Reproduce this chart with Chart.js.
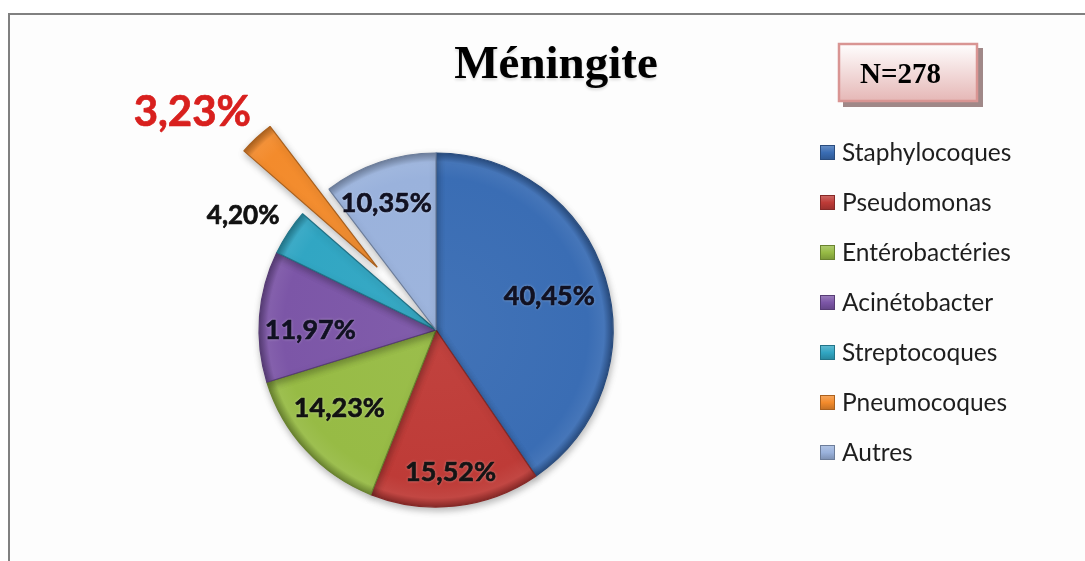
<!DOCTYPE html>
<html><head><meta charset="utf-8">
<script src="https://cdn.jsdelivr.net/npm/chart.js@4/dist/chart.umd.min.js"></script>
<style>
html,body{margin:0;padding:0;background:#fff;}
#wrap{position:relative;width:1085px;height:561px;overflow:hidden;}
canvas{position:absolute;left:0;top:0;}
</style></head><body>
<div id="wrap"><canvas id="c" width="1085" height="561"></canvas></div>
<script>
// ---- data ----
const categories = ['Staphylocoques','Pseudomonas','Entérobactéries','Acinétobacter','Streptocoques','Pneumocoques','Autres'];
const percentages = [40.45, 15.52, 14.23, 11.97, 4.20, 3.23, 10.35];
const chartTitle = 'Méningite';
const sampleSize = 'N=278';

// ---- styles ----
const sliceColors = ['#3A6DB4','#BE3B37','#97BB45','#7C56A7','#31A6C3','#F38B2C','#9AB2DC'];
const explodeDistance = [0,0,0,0,0,86,0];
const labelPlace = [
  {f:0.67, da:0},{f:0.805, da:0.5},{f:0.70, da:4},{f:0.71, da:-4},
  {f:1.27, da:-2.6},{f:1.85, da:-5},{f:0.775, da:-2.6}
];
const labelStyle = [
  {size:27,color:'#111122'},{size:27,color:'#141414'},{size:27,color:'#111111'},{size:27,color:'#111122'},
  {size:26,color:'#111111'},{size:42,color:'#D8201E'},{size:27,color:'#111122'}
];
const PIE_R = 177;

function fmtPct(v){ return v.toFixed(2).replace('.', ',') + '%'; }

function shade(hex, amt){
  const n = parseInt(hex.slice(1),16);
  let r=(n>>16)&255,g=(n>>8)&255,b=n&255;
  const f = c => Math.max(0,Math.min(255,Math.round(amt<0 ? c*(1+amt) : c+(255-c)*amt)));
  return 'rgb('+f(r)+','+f(g)+','+f(b)+')';
}

function sliceCenter(chart, i){
  const a = chart.chartArea;
  const data = chart.data.datasets[0].data;
  const total = data.reduce((s,v)=>s+v,0);
  let start = -Math.PI/2;
  for(let k=0;k<i;k++) start += data[k]/total*2*Math.PI;
  const mid = start + data[i]/total*Math.PI;
  const d = explodeDistance[i]||0;
  return {x:(a.left+a.right)/2 + Math.cos(mid)*d, y:(a.top+a.bottom)/2 + Math.sin(mid)*d};
}

function sliceFill(ctx){
  const chart = ctx.chart, i = ctx.dataIndex;
  const base = sliceColors[i];
  if(!chart.chartArea || i===undefined) return base;
  const c = sliceCenter(chart, i);
  const g = chart.ctx.createRadialGradient(c.x, c.y, 0, c.x, c.y, PIE_R);
  g.addColorStop(0, shade(base, 0.04));
  g.addColorStop(0.86, base);
  g.addColorStop(0.95, shade(base, 0.06));
  g.addColorStop(1, shade(base, -0.28));
  return g;
}

const framePlugin = {
  id:'frame',
  beforeDraw(chart){
    const ctx = chart.ctx;
    ctx.save();
    ctx.fillStyle = '#ffffff';
    ctx.fillRect(0,0,chart.width,chart.height);
    ctx.fillStyle = '#fdfdfd';
    ctx.fillRect(10,15,chart.width,chart.height);
    ctx.strokeStyle = '#808080';
    ctx.lineWidth = 2;
    ctx.beginPath();
    ctx.moveTo(9, chart.height+2); ctx.lineTo(9,14); ctx.lineTo(chart.width+2,14);
    ctx.stroke();
    ctx.restore();
  }
};

const explodePlugin = {
  id:'explode',
  afterDatasetsUpdate(chart){
    const meta = chart.getDatasetMeta(0);
    meta.data.forEach((arc,i)=>{
      const d = explodeDistance[i]; if(!d) return;
      const mid = (arc.startAngle + arc.endAngle)/2;
      arc.x += Math.cos(mid)*d; arc.y += Math.sin(mid)*d;
    });
  },
  beforeDatasetsDraw(chart){
    const ctx = chart.ctx;
    ctx.save();
    ctx.shadowColor = 'rgba(0,0,0,0.28)';
    ctx.shadowBlur = 7;
    ctx.shadowOffsetX = 1;
    ctx.shadowOffsetY = 3;
  },
  afterDatasetsDraw(chart){ chart.ctx.restore(); }
};

const labelPlugin = {
  id:'pctLabels',
  afterDatasetsDraw(chart){
    const ctx = chart.ctx;
    const meta = chart.getDatasetMeta(0);
    const a = chart.chartArea;
    const cx = (a.left+a.right)/2, cy = (a.top+a.bottom)/2;
    const data = chart.data.datasets[0].data;
    ctx.save();
    ctx.textAlign = 'center';
    ctx.textBaseline = 'middle';
    meta.data.forEach((arc,i)=>{
      const p = labelPlace[i], s = labelStyle[i];
      const mid = (arc.startAngle+arc.endAngle)/2 + p.da*Math.PI/180;
      const r = arc.outerRadius * p.f;
      const x = cx + Math.cos(mid)*r, y = cy + Math.sin(mid)*r;
      ctx.font = 'bold ' + s.size + 'px Lato, "Open Sans", sans-serif';
      ctx.shadowColor = 'rgba(255,255,255,0.5)';
      ctx.shadowBlur = 3;
      ctx.fillStyle = s.color;
      ctx.strokeStyle = s.color;
      ctx.lineWidth = 0.7;
      ctx.lineJoin = 'round';
      ctx.fillText(fmtPct(data[i]), x, y + 1);
      ctx.shadowColor = 'transparent';
      ctx.strokeText(fmtPct(data[i]), x, y + 1);
    });
    ctx.restore();
  }
};

const extrasPlugin = {
  id:'extras',
  afterDraw(chart){
    const ctx = chart.ctx;
    ctx.save();
    // title
    ctx.font = 'bold 47px "Liberation Serif", "Times New Roman", serif';
    ctx.textAlign = 'center';
    ctx.textBaseline = 'alphabetic';
    ctx.fillStyle = '#000';
    ctx.shadowColor = 'rgba(0,0,0,0.15)';
    ctx.shadowBlur = 3; ctx.shadowOffsetY = 2;
    ctx.fillText(chartTitle, 556, 78);
    ctx.shadowColor = 'transparent';
    // N box
    ctx.fillStyle = '#A08888';
    ctx.fillRect(843, 48, 140, 59);
    const g = ctx.createLinearGradient(0,43,0,102);
    g.addColorStop(0,'#ffffff'); g.addColorStop(1,'#E5B6B5');
    ctx.fillStyle = g;
    ctx.fillRect(838, 43, 140, 59);
    ctx.strokeStyle = '#D99593'; ctx.lineWidth = 2.5;
    ctx.strokeRect(839, 44, 138, 57);
    ctx.fillStyle = '#000';
    ctx.textAlign = 'left';
    ctx.font = 'bold 29px "Liberation Serif", "Times New Roman", serif';
    ctx.fillText(sampleSize, 860, 83);
    // legend
    ctx.font = '24.5px Lato, "Open Sans", sans-serif';
    ctx.textBaseline = 'middle';
    categories.forEach((lab,i)=>{
      const y = 152 + i*50;
      const col = sliceColors[i];
      const lg = ctx.createLinearGradient(0,y-7,0,y+8);
      lg.addColorStop(0, shade(col,0.25)); lg.addColorStop(0.5,col); lg.addColorStop(1, shade(col,-0.2));
      ctx.fillStyle = lg;
      ctx.fillRect(820, y-7, 15, 15);
      ctx.strokeStyle = shade(col,-0.3); ctx.lineWidth = 1;
      ctx.strokeRect(820.5, y-6.5, 14, 14);
      ctx.fillStyle = '#1e1e1e';
      ctx.fillText(lab, 842, y+1);
    });
    ctx.restore();
  }
};

new Chart(document.getElementById('c'), {
  type: 'pie',
  data: {
    labels: categories,
    datasets: [{
      data: percentages,
      backgroundColor: sliceFill,
      borderColor: sliceColors.map(c=>shade(c,-0.3)),
      borderWidth: 1.2,
      clip: false
    }]
  },
  options: {
    responsive: false,
    animation: false,
    devicePixelRatio: 1,
    radius: PIE_R,
    events: [],
    layout: { padding: { left: 206, right: 419, top: 100, bottom: 1 } },
    plugins: { legend: { display: false }, tooltip: { enabled: false }, title: { display: false } }
  },
  plugins: [framePlugin, explodePlugin, labelPlugin, extrasPlugin]
});
</script>
</body></html>
